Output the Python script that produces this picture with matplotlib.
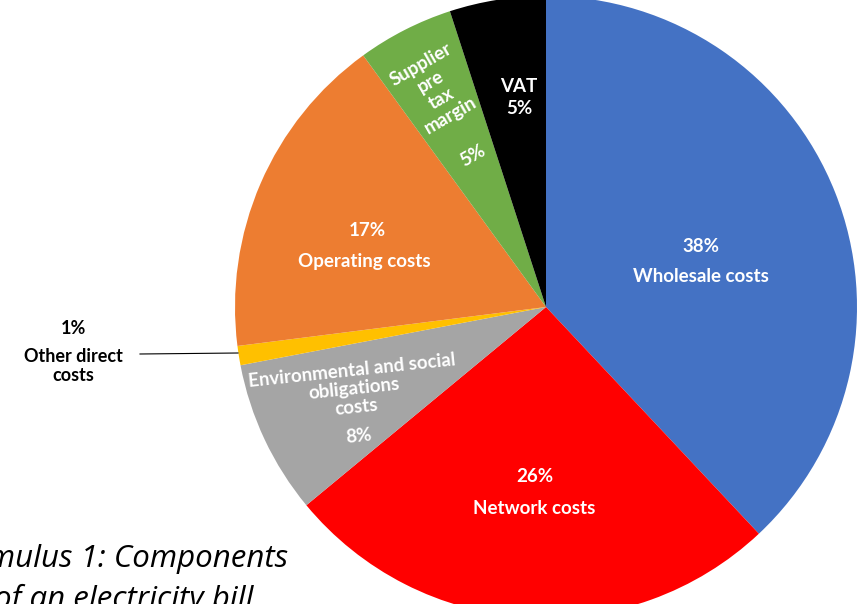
import matplotlib.pyplot as plt
import numpy as np

plt.rcParams['font.family'] = ['Lato', 'DejaVu Sans']

# 数据
categories = ['Wholesale costs', 'Network costs', 'Environmental and social obligations costs',
              'Other direct costs', 'Operating costs', 'Supplier pre tax margin', 'VAT']
shares = [38, 26, 8, 1, 17, 5, 5]
colors = ['#4472C4', '#FF0000', '#A5A5A5', '#FFC000', '#ED7D31', '#70AD47', '#000000']

W, H = 867, 604
fig = plt.figure(figsize=(W / 100, H / 100), dpi=100)
ax = fig.add_axes([0, 0, 1, 1])

cx, cy, r = 546, H - 307, 311
ax.pie(shares, colors=colors, startangle=90, counterclock=False,
       center=(cx, cy), radius=r, wedgeprops=dict(linewidth=0))
ax.set_xlim(0, W)
ax.set_ylim(0, H)
ax.set_aspect('equal')
ax.axis('off')


def px(x, y):
    return x, H - y


lab = dict(color='white', fontsize=13.5, fontweight='bold', ha='center', va='center')
ax.text(*px(701, 246), f'{shares[0]}%', **lab)
ax.text(*px(701, 276), 'Wholesale costs', **lab)
ax.text(*px(535, 476), f'{shares[1]}%', **lab)
ax.text(*px(534, 508), 'Network costs', **lab)
ax.text(*px(367, 231), f'{shares[4]}%', **lab)
ax.text(*px(364, 262), 'Operating costs', **lab)
ax.text(*px(519, 86), 'VAT', **lab)
ax.text(*px(519, 109), f'{shares[6]}%', **lab)

# 倾斜标签
ax.text(*px(354, 389), 'Environmental and social\nobligations\ncosts', rotation=6,
        linespacing=1.12, multialignment='center', rotation_mode='anchor', **lab)
ax.text(*px(359, 436), f'{shares[2]}%', rotation=6, **lab)
ax.text(*px(436, 90), 'Supplier\npre\ntax\nmargin', rotation=30, linespacing=1.2,
        multialignment='center', rotation_mode='anchor', **lab)
ax.text(*px(473, 156), f'{shares[5]}%', rotation=30, **lab)

# 引线标签
ax.text(*px(73, 328), f'{shares[3]}%', color='black', fontsize=13, fontweight='bold',
        ha='center', va='center')
ax.text(*px(73, 366), 'Other direct\ncosts', color='black', fontsize=13, fontweight='bold',
        ha='center', va='center', linespacing=1.2)
ax.plot([140, 238], [H - 354, H - 353], color='black', lw=0.8)

# 标题（部分出界）
ax.text(*px(288, 567), 'Stimulus 1: Components', fontsize=22.5, fontstyle='italic',
        ha='right', va='baseline', color='black', family=['Open Sans', 'DejaVu Sans'])
ax.text(*px(-6, 608), 'of an electricity bill', fontsize=22.5, fontstyle='italic',
        ha='left', va='baseline', color='black', family=['Open Sans', 'DejaVu Sans'])

plt.savefig('out.png', dpi=100)
